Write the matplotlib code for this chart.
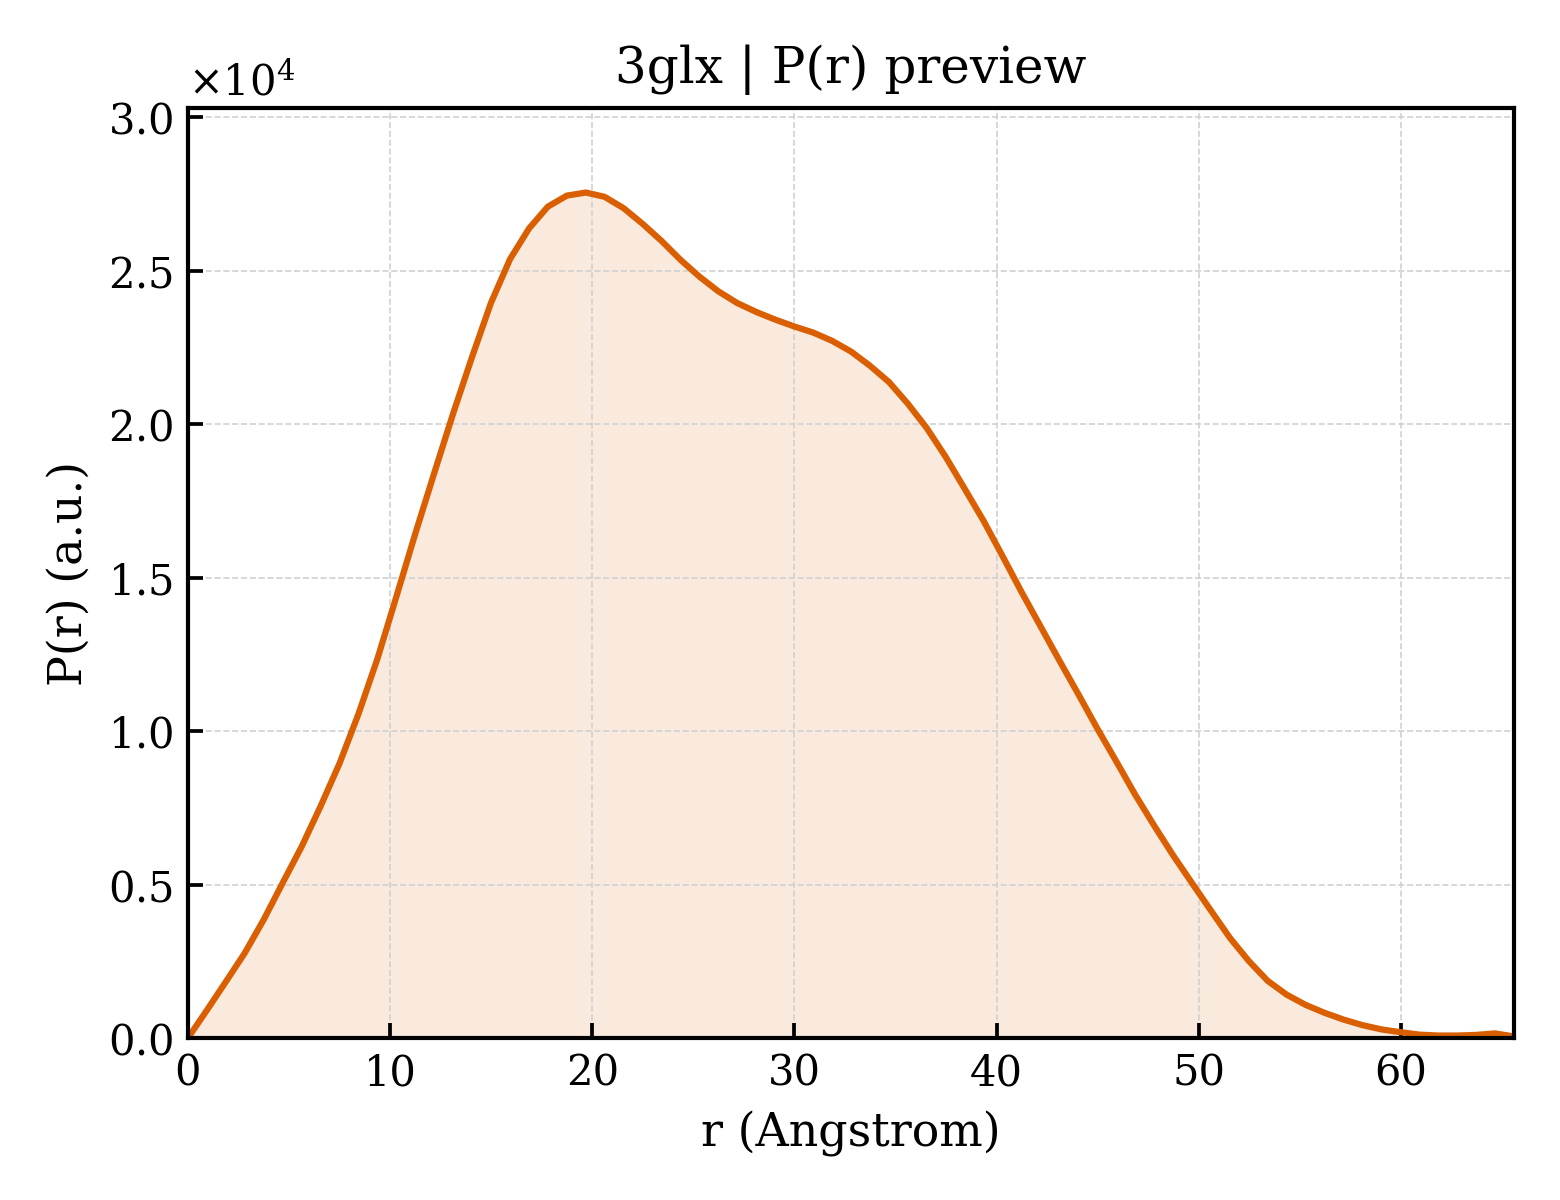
import matplotlib
matplotlib.use("Agg")
import matplotlib.pyplot as plt

# P(r) curve
r = [0.00, 0.94, 1.87, 2.81, 3.75, 4.69, 5.62, 6.56, 7.50, 8.43,
     9.37, 10.31, 11.24, 12.18, 13.12, 14.06, 14.99, 15.93, 16.87, 17.80,
     18.74, 19.68, 20.61, 21.55, 22.49, 23.43, 24.36, 25.30, 26.24, 27.17,
     28.11, 29.05, 29.98, 30.92, 31.86, 32.80, 33.73, 34.67, 35.61, 36.54,
     37.48, 38.42, 39.35, 40.29, 41.23, 42.17, 43.10, 44.04, 44.98, 45.91,
     46.85, 47.79, 48.72, 49.66, 50.60, 51.54, 52.47, 53.41, 54.35, 55.28,
     56.22, 57.16, 58.09, 59.03, 59.97, 60.91, 61.84, 62.78, 63.72, 64.65,
     65.59]
pr = [0, 910, 1830, 2770, 3860, 5060, 6230, 7550, 8950, 10550,
      12350, 14380, 16420, 18400, 20350, 22200, 23950, 25370, 26370, 27080,
      27440, 27540, 27400, 27030, 26520, 25960, 25350, 24800, 24320, 23940,
      23650, 23400, 23180, 22980, 22710, 22360, 21900, 21370, 20660, 19870,
      18930, 17890, 16850, 15700, 14530, 13410, 12300, 11200, 10080, 9020,
      7930, 6920, 5960, 5050, 4150, 3260, 2510, 1860, 1410, 1080,
      820, 600, 420, 280, 190, 110, 80, 80, 100, 150,
      50]

line_color = "#d95f02"

plt.rcParams["font.family"] = "DejaVu Serif"
plt.rcParams["mathtext.fontset"] = "dejavuserif"

fig = plt.figure(figsize=(5.2, 4.0), dpi=300)
ax = fig.add_axes([0.1205, 0.135, 0.85, 0.775])

ax.fill_between(r, pr, 0, color=line_color, alpha=0.13, linewidth=0)
ax.plot(r, pr, color=line_color, linewidth=1.5)

ax.set_xlim(0, r[-1])
ax.set_ylim(0, max(pr) * 1.1)
ax.ticklabel_format(axis="y", style="sci", scilimits=(0, 0), useMathText=True)

ax.grid(True, linestyle="--", linewidth=0.4, color="0.82")
ax.tick_params(direction="in", labelsize=10, width=0.9, length=3.5)
for sp in ax.spines.values():
    sp.set_linewidth(1.0)

ax.set_xlabel("r (Angstrom)", fontsize=11)
ax.set_ylabel("P(r) (a.u.)", fontsize=11)
ax.set_title("3glx | P(r) preview", fontsize=12)

fig.savefig("out.png", dpi=300)
